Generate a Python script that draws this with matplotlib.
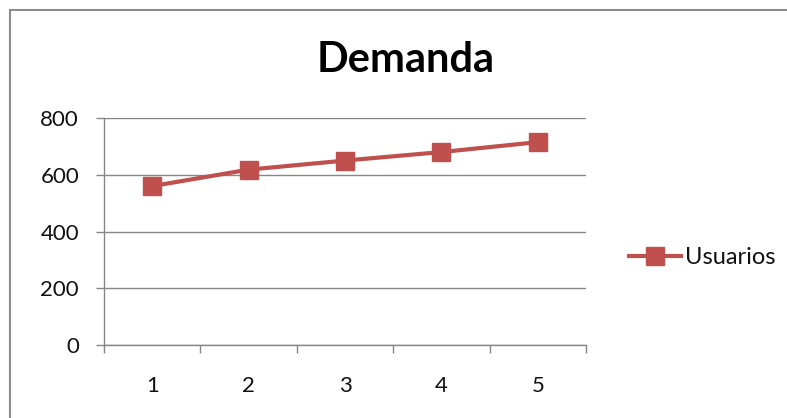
import matplotlib
matplotlib.use("Agg")
import matplotlib.pyplot as plt
from matplotlib.patches import Rectangle

categories = ["1", "2", "3", "4", "5"]
usuarios = [560, 618, 650, 680, 715]
yticks = [0, 200, 400, 600, 800]
series_name = "Usuarios"
title = "Demanda"

plt.rcParams['font.family'] = ['Lato', 'DejaVu Sans']

W, H = 787, 418
fig = plt.figure(figsize=(W/100, H/100), dpi=100)
fig.patch.set_facecolor('white')

# outer chart border
fig.patches.append(Rectangle((10/W, -0.05), 1.2, 1 - 10/H + 0.05, transform=fig.transFigure,
                             fill=False, edgecolor='#8c8c8c', linewidth=1.5))

left, right, top, bottom = 104, 586, 118, 345
ax = fig.add_axes([left/W, 1 - bottom/H, (right-left)/W, (bottom-top)/H])
x = list(range(len(categories)))
color = '#C0504D'
ax.plot(x, usuarios, color=color, linewidth=3, marker='s', markersize=13,
        markerfacecolor=color, markeredgecolor=color, label=series_name, zorder=3)
ax.set_xlim(-0.5, len(categories) - 0.5)
ax.set_ylim(0, 800)
ax.set_yticks(yticks)
ax.set_yticklabels([str(v) for v in yticks])
ax.set_xticks(x)
ax.set_xticklabels(categories)
ax.set_xticks([i - 0.5 for i in range(len(categories) + 1)], minor=True)
ax.tick_params(axis='x', which='major', length=0, pad=22, labelsize=16, colors='#111111')
ax.tick_params(axis='x', which='minor', length=6, width=1, color='#868686', direction='out')
ax.tick_params(axis='y', length=6, width=1, color='#868686', labelsize=16, pad=12,
               labelcolor='#111111')
ax.grid(axis='y', color='#868686', linewidth=1)
for s in ['top', 'right']:
    ax.spines[s].set_visible(False)
for s in ['left', 'bottom']:
    ax.spines[s].set_color('#868686')
    ax.spines[s].set_linewidth(1)
ax.set_axisbelow(True)

fig.text(406/W, 1 - 60/H, title, ha='center', va='center', fontsize=30, fontweight='bold')

leg = fig.legend(loc='center left', bbox_to_anchor=(620/W, 1 - 258/H), frameon=False,
                 fontsize=17, handlelength=2.2, handletextpad=0.15, borderaxespad=0)
for t in leg.get_texts():
    t.set_color('#111111')

fig.savefig('out.png', dpi=100)
